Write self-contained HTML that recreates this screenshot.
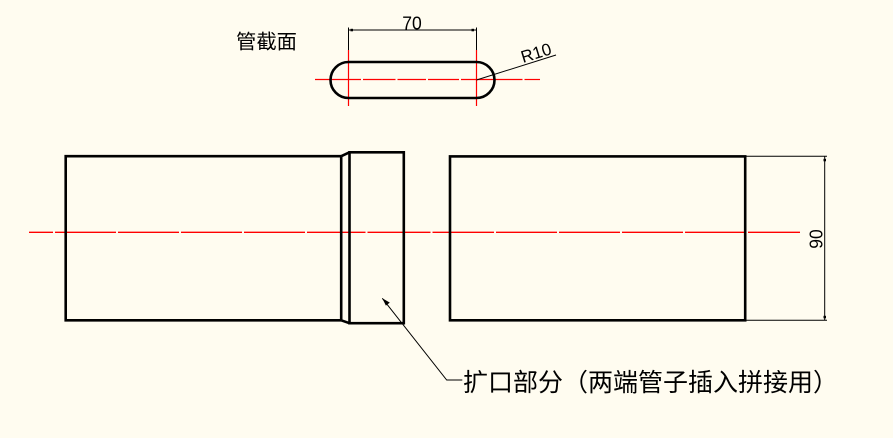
<!DOCTYPE html>
<html>
<head>
<meta charset="utf-8">
<style>
html,body{margin:0;padding:0;background:#FFFCF0;}
svg{display:block;}
</style>
</head>
<body>
<svg width="893" height="438" viewBox="0 0 893 438" xmlns="http://www.w3.org/2000/svg">
<rect x="0" y="0" width="893" height="438" fill="#FFFCF0"/>

<!-- ===== Top cross-section ===== -->
<text x="236" y="48.5" font-family="Liberation Sans, 'Noto Sans CJK SC', sans-serif" font-size="20" textLength="61" lengthAdjust="spacingAndGlyphs" fill="#000">管截面</text>

<!-- red centerline horizontal (dashed with small gaps) -->
<g stroke="#FF0000" stroke-width="1.2" fill="none">
  <line x1="315" y1="79.5" x2="361" y2="79.5"/>
  <line x1="363" y1="79.5" x2="395.5" y2="79.5"/>
  <line x1="397.5" y1="79.5" x2="426" y2="79.5"/>
  <line x1="428" y1="79.5" x2="459" y2="79.5"/>
  <line x1="461" y1="79.5" x2="522.5" y2="79.5"/>
  <line x1="524.5" y1="79.5" x2="540" y2="79.5"/>
  <!-- verticals -->
  <line x1="348.5" y1="50" x2="348.5" y2="106"/>
  <line x1="476.5" y1="50" x2="476.5" y2="106"/>
</g>

<!-- slot outline -->
<path d="M348.5,62 L476.5,62 A18,18 0 0 1 476.5,98 L348.5,98 A18,18 0 0 1 348.5,62 Z" fill="none" stroke="#000" stroke-width="2.6"/>

<!-- 70 dimension -->
<g stroke="#000" stroke-width="1" fill="none">
  <line x1="348.5" y1="27.5" x2="348.5" y2="50"/>
  <line x1="476.5" y1="27.5" x2="476.5" y2="50"/>
  <line x1="348.5" y1="30" x2="476.5" y2="30"/>
</g>
<rect x="350.5" y="28.8" width="2.5" height="2.5" fill="#000"/>
<rect x="471.5" y="28.8" width="2.5" height="2.5" fill="#000"/>
<text x="412" y="29.5" text-anchor="middle" font-family="Liberation Sans, sans-serif" font-size="18" textLength="19.5" lengthAdjust="spacingAndGlyphs" fill="#000">70</text>

<!-- R10 leader -->
<line x1="476.5" y1="80" x2="556" y2="55" stroke="#000" stroke-width="1"/>
<text x="523" y="63" font-family="Liberation Sans, sans-serif" font-size="17" textLength="31" lengthAdjust="spacingAndGlyphs" transform="rotate(-17 523 63)" fill="#000">R10</text>

<!-- ===== Main view ===== -->
<!-- red main centerline -->
<g stroke="#FF0000" stroke-width="1.3" fill="none">
  <line x1="29" y1="232.3" x2="53" y2="232.3"/>
  <line x1="55" y1="232.3" x2="116" y2="232.3"/>
  <line x1="118" y1="232.3" x2="179" y2="232.3"/>
  <line x1="181" y1="232.3" x2="242" y2="232.3"/>
  <line x1="244" y1="232.3" x2="305" y2="232.3"/>
  <line x1="307" y1="232.3" x2="365.5" y2="232.3"/>
  <line x1="367.5" y1="232.3" x2="430.5" y2="232.3"/>
  <line x1="432.5" y1="232.3" x2="494" y2="232.3"/>
  <line x1="496" y1="232.3" x2="557" y2="232.3"/>
  <line x1="559" y1="232.3" x2="620" y2="232.3"/>
  <line x1="622" y1="232.3" x2="683" y2="232.3"/>
  <line x1="685" y1="232.3" x2="746" y2="232.3"/>
  <line x1="748" y1="232.3" x2="800" y2="232.3"/>
</g>

<g stroke="#000" stroke-width="2.6" fill="none" stroke-linejoin="miter">
  <!-- left tube -->
  <polyline points="341.2,156.2 65.7,156.2 65.7,320.3 341.2,320.3"/>
  <line x1="341.2" y1="156.2" x2="341.2" y2="320.3"/>
  <!-- chamfers -->
  <line x1="341.2" y1="156.2" x2="349.5" y2="152.3"/>
  <line x1="341.2" y1="320.3" x2="349.5" y2="323.2"/>
  <!-- socket -->
  <rect x="349.5" y="152.3" width="54.3" height="170.9"/>
  <!-- right tube -->
  <rect x="450" y="156.4" width="295.2" height="163.9"/>
</g>

<!-- 90 dimension -->
<g stroke="#000" stroke-width="1" fill="none">
  <line x1="746" y1="156.2" x2="827" y2="156.2"/>
  <line x1="746" y1="320.2" x2="827" y2="320.2"/>
  <line x1="824.7" y1="156.2" x2="824.7" y2="320.2"/>
</g>
<rect x="823.5" y="158.8" width="2.5" height="2.5" fill="#000"/>
<rect x="823.5" y="315.8" width="2.5" height="2.5" fill="#000"/>
<text x="239" y="822.5" text-anchor="middle" font-family="Liberation Sans, sans-serif" font-size="18" textLength="19.5" lengthAdjust="spacingAndGlyphs" transform="translate(0 0)" fill="#000" style="display:none">90</text>
<text x="0" y="0" text-anchor="middle" font-family="Liberation Sans, sans-serif" font-size="18" textLength="19.5" lengthAdjust="spacingAndGlyphs" transform="translate(822.5 239) rotate(-90)" fill="#000">90</text>

<!-- leader for socket -->
<polyline points="382.3,298.3 446.7,380 462.3,380" fill="none" stroke="#000" stroke-width="1"/>
<polygon points="382.3,298.3 389.8,302.6 385.9,305.6" fill="#000"/>

<text x="463" y="391" font-family="Liberation Sans, 'Noto Sans CJK SC', sans-serif" font-size="25" textLength="375" lengthAdjust="spacingAndGlyphs" fill="#000">扩口部分（两端管子插入拼接用）</text>
</svg>
</body>
</html>
